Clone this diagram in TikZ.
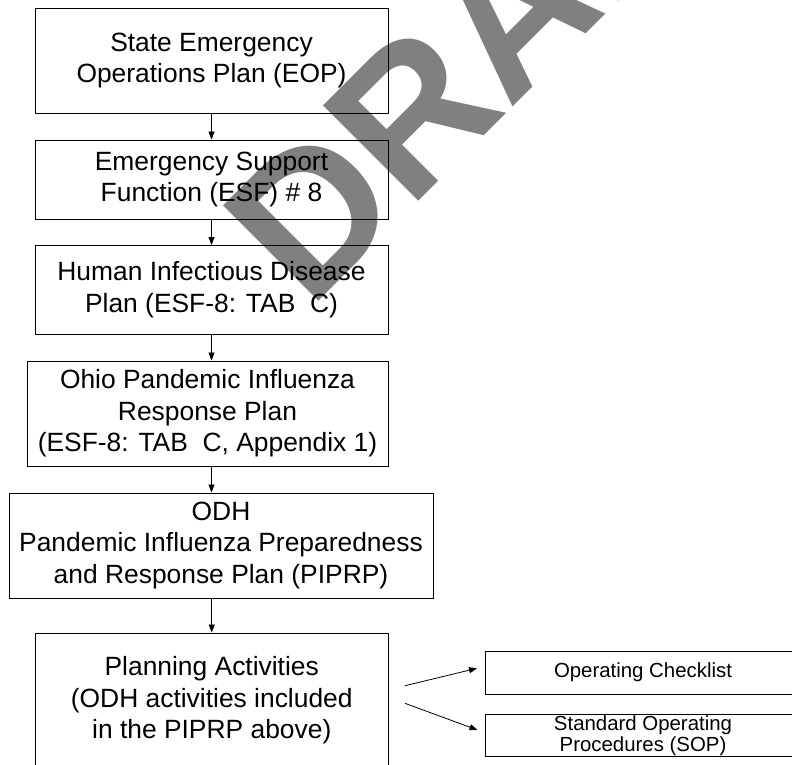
\documentclass[tikz,border=0pt]{standalone}
\usepackage{fontspec}
\setmainfont{Liberation Sans}
\usetikzlibrary{arrows.meta}
\begin{document}
\begin{tikzpicture}[x=1pt,y=1pt,
  box/.style={draw=black, line width=1pt, inner sep=0pt, align=center, font=\fontsize{26.4}{31.5}\selectfont},
  sbox/.style={draw=black, line width=1pt, inner sep=0pt, align=center, font=\fontsize{20.4}{21.6}\selectfont, minimum width=316},
  arr/.style={-{Triangle[length=8pt,width=6pt]}, line width=0.8pt},
  wmark/.style={rotate=45, anchor=base west, inner sep=0pt, text=black!50, font=\fontsize{196}{196}\bfseries\selectfont}]
\useasboundingbox (0,0) rectangle (792,-764);
\begin{scope}
\clip (0,0) rectangle (792,-764);
\node[wmark] (wm) at (309,-311) {DRAFT};
\node[box, minimum width=353, minimum height=105] (b1) at (211.5,-60.5) {State Emergency\\Operations Plan (EOP)};
\node[box, minimum width=353, minimum height=79] (b2) at (211.5,-179.5) {Emergency Support\\Function (ESF) \# 8};
\node[box, minimum width=353, minimum height=88.5] (b3) at (211.5,-289.75) {Human Infectious Disease\\Plan (ESF-8: TAB\ \ C)};
\node[box, minimum width=361, minimum height=105] (b4) at (207.5,-413.5) {Ohio Pandemic Influenza\\Response Plan\\(ESF-8: TAB\ \ C, Appendix 1)};
\node[box, minimum width=424, minimum height=105] (b5) at (221,-545.5) {ODH\\Pandemic Influenza Preparedness\\and Response Plan (PIPRP)};
\node[box, minimum width=352.5, minimum height=135] (b6) at (211.75,-700.5) {Planning Activities\\(ODH activities included\\in the PIPRP above)};
\node[sbox, minimum height=43.3] (b7) at (643,-672.7) {Operating Checklist};
\node[sbox, minimum height=41.7] (b8) at (643,-735.8) {Standard Operating\\Procedures (SOP)};
\draw[arr] (b1.south) -- (b2.north);
\draw[arr] (b2.south) -- (b3.north);
\draw[arr] (b3.south) -- (b4.north -| b3.south);
\draw[arr] (b4.south -| b3.south) -- (b5.north -| b3.south);
\draw[arr] (b5.south -| b6.north) -- (b6.north);
\coordinate (d1s) at (405,-685.7);
\coordinate (d1e) at (477,-668.3);
\coordinate (d2s) at (405,-703.3);
\coordinate (d2e) at (477.5,-730);
\draw[arr] (d1s) -- (d1e);
\draw[arr] (d2s) -- (d2e);
\end{scope}
\end{tikzpicture}
\end{document}
